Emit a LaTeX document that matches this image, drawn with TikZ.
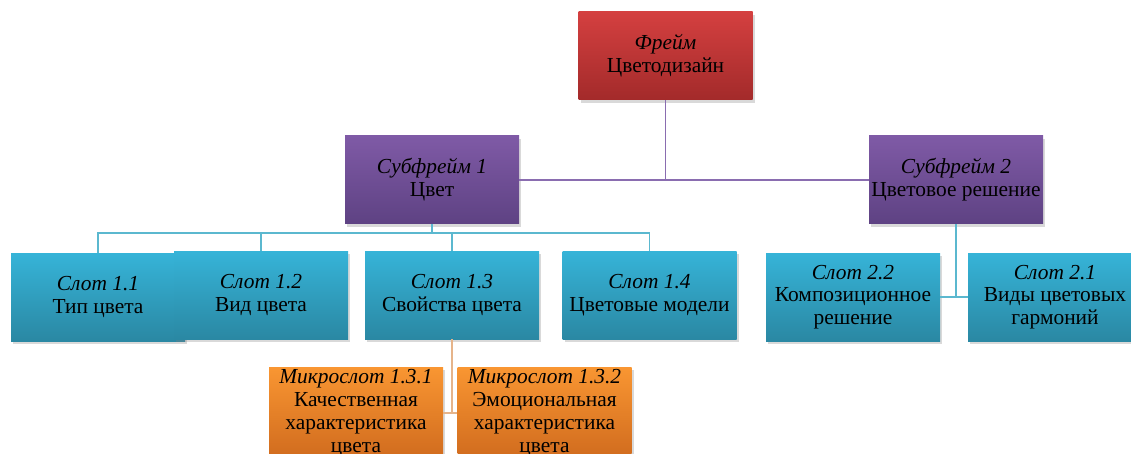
\documentclass[tikz,border=0pt]{standalone}
\usepackage{fontspec}
\setmainfont{Liberation Serif}
\usetikzlibrary{shadows}
\definecolor{redT}{HTML}{D44040}
\definecolor{redB}{HTML}{A32A2A}
\definecolor{purT}{HTML}{7F5AA6}
\definecolor{purB}{HTML}{5E4283}
\definecolor{bluT}{HTML}{36B4D8}
\definecolor{bluB}{HTML}{2A88A3}
\definecolor{orT}{HTML}{F99632}
\definecolor{orB}{HTML}{D06B1E}
\definecolor{purLine}{HTML}{8A6DB0}
\definecolor{bluLine}{HTML}{5BB8CF}
\definecolor{orLine}{HTML}{E6B48A}
\begin{document}
\begin{tikzpicture}[x=1pt,y=-1pt,
  box/.style={rectangle, minimum width=174pt, minimum height=88pt, inner sep=0pt,
    align=center, font=\fontsize{21.4}{22.8}\selectfont,
    drop shadow={opacity=0.3, shadow xshift=2pt, shadow yshift=-3pt}},
  framebox/.style={box, top color=redT, bottom color=redB},
  subbox/.style={box, top color=purT, bottom color=purB},
  slotbox/.style={box, top color=bluT, bottom color=bluB},
  microbox/.style={box, top color=orT, bottom color=orB, minimum height=92pt},
  purline/.style={draw=purLine, line width=1.6pt},
  bluline/.style={draw=bluLine, line width=1.6pt},
  orline/.style={draw=orLine, line width=1.4pt}]
\useasboundingbox (0,0) rectangle (1131,454);
\clip (0,0) rectangle (1131,454);

\node[framebox] (fr) at (665.5,56) {\textit{Фрейм}\\Цветодизайн};
\node[subbox] (sf1) at (432,180) {\textit{Субфрейм 1}\\Цвет};
\node[subbox] (sf2) at (956,180) {\textit{Субфрейм 2}\\Цветовое решение};

\node[slotbox] (s11) at (98,297) {\textit{Слот 1.1}\\Тип цвета};
\node[slotbox] (s12) at (261,295) {\textit{Слот 1.2}\\Вид цвета};
\node[slotbox] (s13) at (452,295) {\textit{Слот 1.3}\\Свойства цвета};
\node[slotbox] (s14) at (649.5,295) {\textit{Слот 1.4}\\Цветовые модели};
\node[slotbox] (s22) at (853,297) {\textit{Слот 2.2}\\Композиционное\\решение};
\node[slotbox] (s21) at (1055,297) {\textit{Слот 2.1}\\Виды цветовых\\гармоний};

\node[microbox] (m1) at (356,413) {\textit{Микрослот 1.3.1}\\Качественная\\характеристика\\цвета};
\node[microbox] (m2) at (544.5,413) {\textit{Микрослот 1.3.2}\\Эмоциональная\\характеристика\\цвета};

\coordinate (bus1) at (432,233);
\draw[purline] (fr.south) |- (sf1.east);
\draw[purline] (fr.south) |- (sf2.west);
\draw[bluline] (sf1.south) -- (bus1);
\draw[bluline] (bus1) -| (s11.north);
\draw[bluline] (bus1) -| (s12.north);
\draw[bluline] (bus1) -| (s13.north);
\draw[bluline] (bus1) -| (s14.north);
\draw[bluline] (sf2.south) |- (s22.east);
\draw[bluline] (sf2.south) |- (s21.west);
\draw[orline] (s13.south) |- (m1.east);
\draw[orline] (s13.south) |- (m2.west);
\end{tikzpicture}
\end{document}
